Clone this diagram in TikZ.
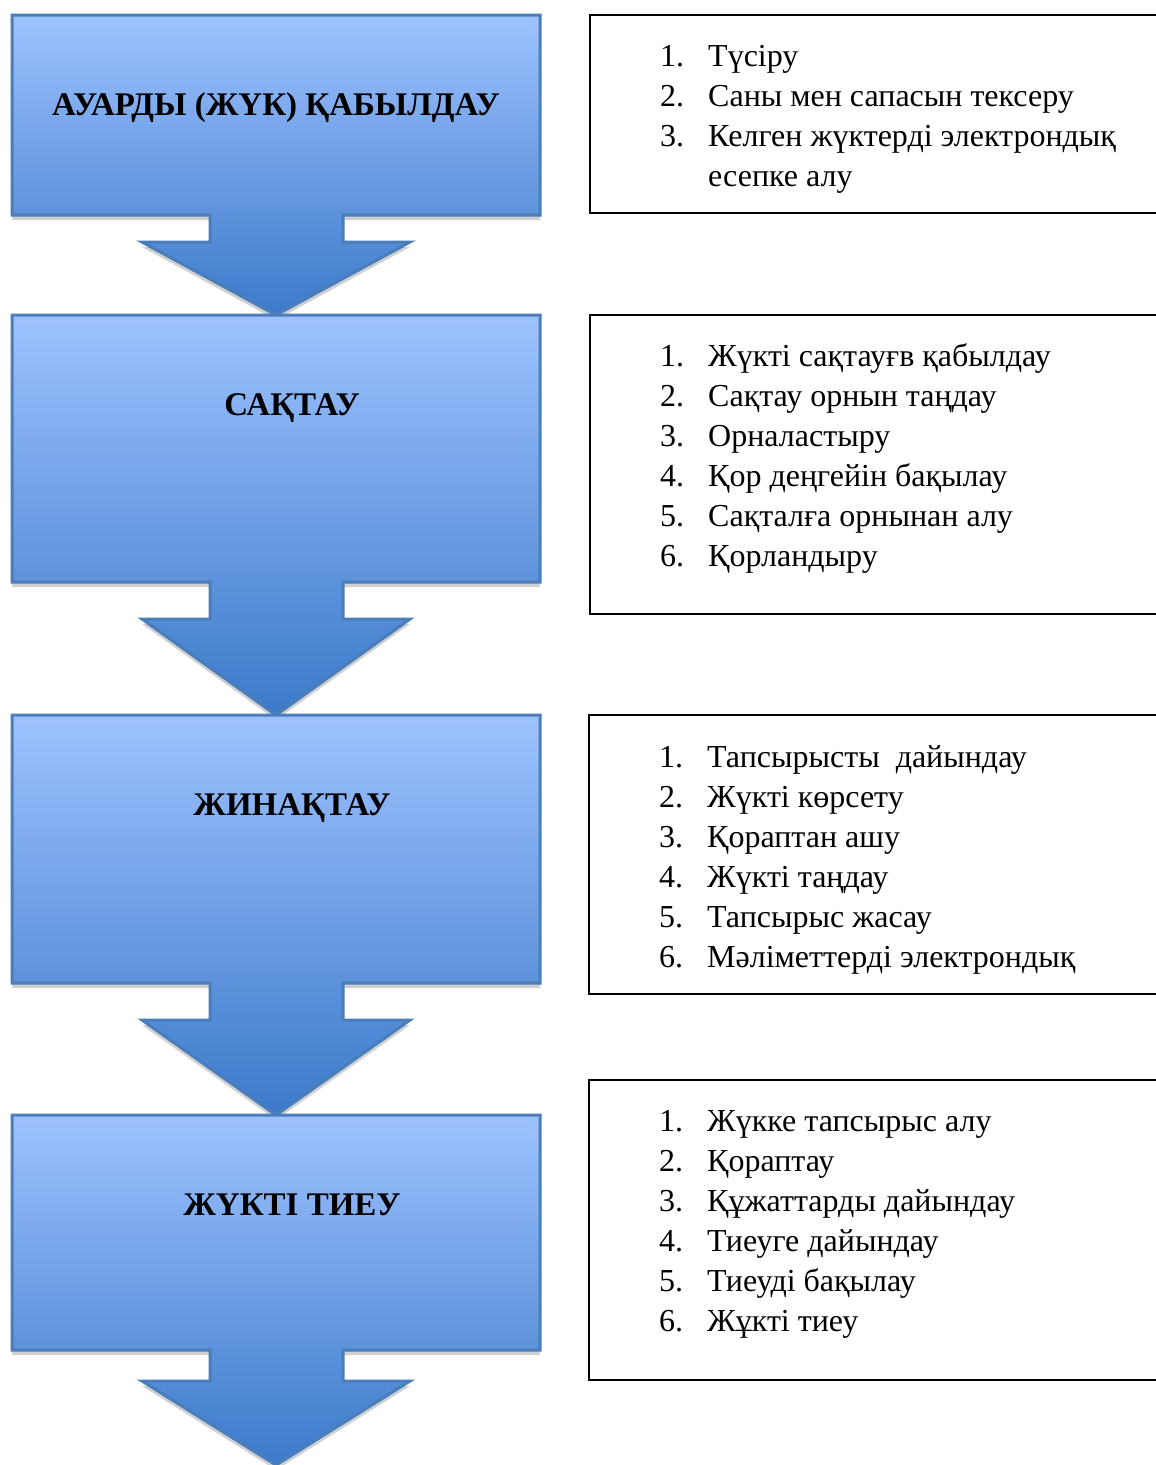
\documentclass[tikz,border=0pt]{standalone}
\usepackage{fontspec}
\setmainfont{Liberation Serif}
\definecolor{gtop}{RGB}{158,194,255}
\definecolor{gbot}{RGB}{60,122,202}
\definecolor{bord}{RGB}{74,126,187}
\definecolor{shad}{RGB}{208,208,208}
\tikzset{
  callout/.style={line width=3pt, draw=bord, top color=gtop, bottom color=gbot, line join=miter},
  calloutshadow/.style={fill=shad, draw=none},
  listbox/.style={draw=black, line width=2.2pt},
  heading/.style={font=\fontsize{33}{38}\selectfont\bfseries, inner sep=0pt, anchor=base},
  listtext/.style={font=\fontsize{32}{40}\selectfont, inner sep=0pt, anchor=base west}
}
\newcommand{\arrowshape}[4]{% top, rect bottom, wing, tip
  (12,#1) -- (540,#1) -- (540,#2) -- (343,#2) -- (343,#3) -- (410,#3) -- (276,#4) -- (142,#3) -- (210,#3) -- (210,#2) -- (12,#2) -- cycle}
\newenvironment{steplist}{\begin{tabular}[t]{@{}p{48pt}@{}l@{}}}{\end{tabular}}
\begin{document}
\begin{tikzpicture}[x=1pt,y=-1pt]
\useasboundingbox (0,0) rectangle (1156,1465);
\clip (0,0) rectangle (1156,1465);
% shape 1
\fill[calloutshadow, shift={(0,5)}] \arrowshape{15}{215}{242}{315};
\path[callout] \arrowshape{15}{215}{242}{315};
% shape 2
\fill[calloutshadow, shift={(0,5)}] \arrowshape{315}{582}{619}{715};
\path[callout] \arrowshape{315}{582}{619}{715};
% shape 3
\fill[calloutshadow, shift={(0,5)}] \arrowshape{715}{983}{1020}{1115};
\path[callout] \arrowshape{715}{983}{1020}{1115};
% shape 4
\fill[calloutshadow, shift={(0,5)}] \arrowshape{1115}{1350}{1381}{1465};
\path[callout] \arrowshape{1115}{1350}{1381}{1465};

\node[heading] (h1) at (276,115) {АУАРДЫ (ЖҮК) ҚАБЫЛДАУ};
\node[heading] (h2) at (292,415) {САҚТАУ};
\node[heading] (h3) at (292,815) {ЖИНАҚТАУ};
\node[heading] (h4) at (292,1215) {ЖҮКТІ ТИЕУ};

% list boxes
\draw[listbox] (590,15) rectangle (1200,213);
\draw[listbox] (590,315) rectangle (1200,614);
\draw[listbox] (589,715) rectangle (1200,994);
\draw[listbox] (589,1080) rectangle (1200,1380);

\node[listtext] (l1) at (660,66) {\begin{steplist}1. & Түсіру\\ 2. & Саны мен сапасын тексеру\\ 3. & Келген жүктерді электрондық\\ & есепке алу\end{steplist}};
\node[listtext] (l2) at (660,366) {\begin{steplist}1. & Жүкті сақтауғв қабылдау\\ 2. & Сақтау орнын таңдау\\ 3. & Орналастыру\\ 4. & Қор деңгейін бақылау\\ 5. & Сақталға орнынан алу\\ 6. & Қорландыру\end{steplist}};
\node[listtext] (l3) at (659,767) {\begin{steplist}1. & Тапсырысты\ \ дайындау\\ 2. & Жүкті көрсету\\ 3. & Қораптан ашу\\ 4. & Жүкті таңдау\\ 5. & Тапсырыс жасау\\ 6. & Мәліметтерді электрондық\end{steplist}};
\node[listtext] (l4) at (659,1131) {\begin{steplist}1. & Жүкке тапсырыс алу\\ 2. & Қораптау\\ 3. & Құжаттарды дайындау\\ 4. & Тиеуге дайындау\\ 5. & Тиеуді бақылау\\ 6. & Жұкті тиеу\end{steplist}};
\end{tikzpicture}
\end{document}
